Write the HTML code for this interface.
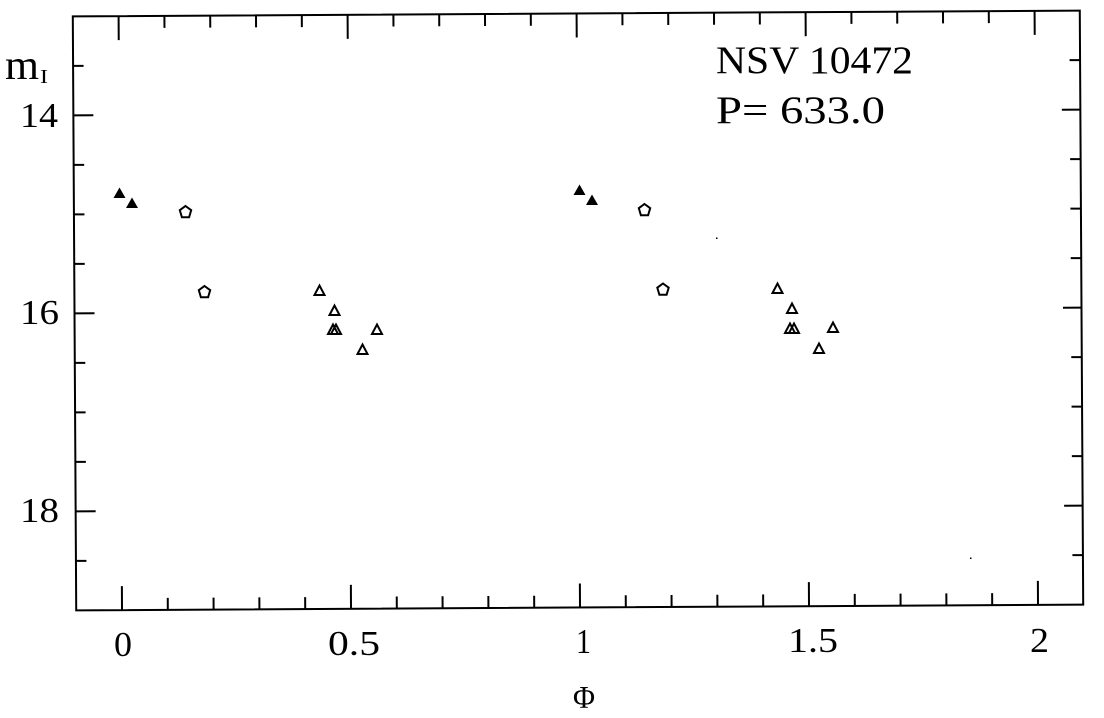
<!DOCTYPE html>
<html><head><meta charset="utf-8"><style>
html,body{margin:0;padding:0;background:#fff;}
svg{display:block;}
text{font-family:"Liberation Serif","DejaVu Serif",serif;fill:#000;}
</style></head><body>
<svg width="1104" height="718" viewBox="0 0 1104 718" xmlns="http://www.w3.org/2000/svg">
<rect width="1104" height="718" fill="#fff"/>
<g transform="rotate(-0.33 577.75 310.5)" stroke="#000" stroke-width="2" fill="none">
  <rect x="74.5" y="13.5" width="1007" height="594"/>
  <!-- bottom ticks -->
  <path d="
  M120.3 607.5V583.5 M166.1 607.5V595.5 M211.9 607.5V595.5 M257.7 607.5V595.5 M303.5 607.5V595.5
  M349.3 607.5V583.5 M395.1 607.5V595.5 M440.9 607.5V595.5 M486.7 607.5V595.5 M532.5 607.5V595.5
  M578.3 607.5V583.5 M624.1 607.5V595.5 M669.9 607.5V595.5 M715.7 607.5V595.5 M761.5 607.5V595.5
  M807.3 607.5V583.5 M853.1 607.5V595.5 M898.9 607.5V595.5 M944.7 607.5V595.5 M990.5 607.5V595.5
  M1036.3 607.5V583.5"/>
  <!-- top ticks -->
  <path d="
  M120.3 13.5V37.5 M166.1 13.5V25.5 M211.9 13.5V25.5 M257.7 13.5V25.5 M303.5 13.5V25.5
  M349.3 13.5V37.5 M395.1 13.5V25.5 M440.9 13.5V25.5 M486.7 13.5V25.5 M532.5 13.5V25.5
  M578.3 13.5V37.5 M624.1 13.5V25.5 M669.9 13.5V25.5 M715.7 13.5V25.5 M761.5 13.5V25.5
  M807.3 13.5V37.5 M853.1 13.5V25.5 M898.9 13.5V25.5 M944.7 13.5V25.5 M990.5 13.5V25.5
  M1036.3 13.5V37.5"/>
  <!-- left ticks -->
  <path d="
  M74.5 63H85 M74.5 112.5H94.5 M74.5 162H85 M74.5 211.5H85 M74.5 261H85
  M74.5 310.5H94.5 M74.5 360H85 M74.5 409.5H85 M74.5 459H85 M74.5 508.5H94.5 M74.5 558H85"/>
  <!-- right ticks -->
  <path d="
  M1081.5 63H1071 M1081.5 112.5H1063 M1081.5 162H1071 M1081.5 211.5H1071 M1081.5 261H1071
  M1081.5 310.5H1063 M1081.5 360H1071 M1081.5 409.5H1071 M1081.5 459H1071 M1081.5 508.5H1063 M1081.5 558H1071"/>
</g>

<!-- y tick labels -->
<text x="20" y="127" font-size="35" textLength="38" lengthAdjust="spacingAndGlyphs">14</text>
<text x="20" y="324" font-size="35" textLength="39" lengthAdjust="spacingAndGlyphs">16</text>
<text x="20" y="522" font-size="35" textLength="39" lengthAdjust="spacingAndGlyphs">18</text>

<!-- y axis label m_I -->
<text x="5" y="79" font-size="42" textLength="34" lengthAdjust="spacingAndGlyphs">m</text>
<text x="40" y="83" font-size="20" textLength="8" lengthAdjust="spacingAndGlyphs">I</text>

<!-- x tick labels -->
<text x="114" y="656" font-size="35" textLength="18" lengthAdjust="spacingAndGlyphs">0</text>
<text x="328" y="655" font-size="35" textLength="52" lengthAdjust="spacingAndGlyphs">0.5</text>
<text x="576" y="653" font-size="35" textLength="15" lengthAdjust="spacingAndGlyphs">1</text>
<text x="788" y="652" font-size="35" textLength="50" lengthAdjust="spacingAndGlyphs">1.5</text>
<text x="1030" y="652" font-size="35" textLength="19" lengthAdjust="spacingAndGlyphs">2</text>

<!-- x axis label -->
<text x="573" y="708" font-size="32" textLength="22" lengthAdjust="spacingAndGlyphs">Φ</text>

<!-- annotation -->
<text x="716" y="73" font-size="39" textLength="197" lengthAdjust="spacingAndGlyphs">NSV 10472</text>
<text x="716" y="123" font-size="39" textLength="169" lengthAdjust="spacingAndGlyphs">P= 633.0</text>

<!-- filled triangles -->
<g fill="#000">
  <polygon points="113.5,198 125.5,198 119.5,187.5"/>
  <polygon points="126,208 138,208 132,197.5"/>
  <polygon points="573.5,195 585.5,195 579.5,184.5"/>
  <polygon points="586,205 598,205 592,194.5"/>
</g>

<!-- pentagons -->
<g fill="none" stroke="#000" stroke-width="2">
  <polygon points="185.5,206 191.2,210.2 189.1,217.3 181.9,217.3 179.8,210.2"/>
  <polygon points="204.5,286 210.2,290.2 208.1,297.3 200.9,297.3 198.8,290.2"/>
  <polygon points="644.5,204 650.2,208.2 648.1,215.3 640.9,215.3 638.8,208.2"/>
  <polygon points="663,283.5 668.7,287.7 666.6,294.8 659.4,294.8 657.3,287.7"/>
</g>

<!-- open triangles -->
<g fill="none" stroke="#000" stroke-width="2" stroke-linejoin="miter">
  <polygon points="314.5,295 324.5,295 319.5,285.5"/>
  <polygon points="329.5,315 339.5,315 334.5,305.5"/>
  <polygon points="328,334 338,334 333,324.5"/>
  <polygon points="331,334 341,334 336,324.5"/>
  <polygon points="372,334 382,334 377,324.5"/>
  <polygon points="357.5,354 367.5,354 362.5,344.5"/>

  <polygon points="772.5,293 782.5,293 777.5,283.5"/>
  <polygon points="787,313 797,313 792,303.5"/>
  <polygon points="785,333 795,333 790,323.5"/>
  <polygon points="789,333 799,333 794,323.5"/>
  <polygon points="828,332 838,332 833,322.5"/>
  <polygon points="814,353 824,353 819,343.5"/>
</g>

<!-- specks -->
<rect x="716" y="237.5" width="1.5" height="1.5" fill="#000"/>
<rect x="970" y="557.5" width="1.5" height="1.5" fill="#000"/>
</svg>
</body></html>
